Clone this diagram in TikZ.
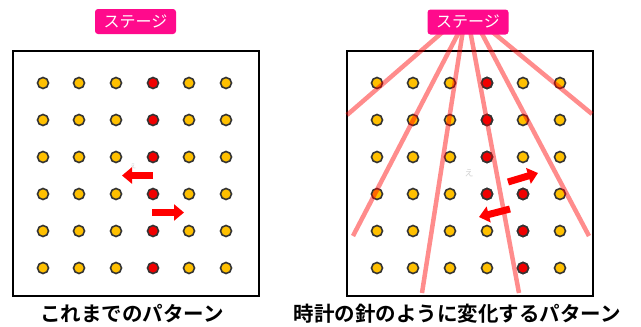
\documentclass[tikz,border=0pt]{standalone}
\usepackage{fontspec}
\newfontfamily\jp{Noto Sans CJK JP}[BoldFont={Noto Sans CJK JP Bold}]
\usetikzlibrary{arrows.meta}
\definecolor{stagepink}{HTML}{FF0A8C}
\definecolor{dotyellow}{HTML}{FFC000}
\definecolor{dotred}{HTML}{F00000}
\definecolor{dotline}{HTML}{333333}
\begin{document}
\begin{tikzpicture}[x=1pt,y=-1pt,
  dot/.style={circle,draw=dotline,line width=1.6pt,minimum size=11pt,inner sep=0pt},
  ydot/.style={dot,fill=dotyellow},
  rdot/.style={dot,fill=dotred},
  panel/.style={draw=black,line width=2pt},
  stagebox/.style={fill=stagepink,rounded corners=3pt,text=white,font=\jp\fontsize{16}{16}\selectfont,minimum width=81pt,minimum height=25pt,inner sep=0pt},
  ray/.style={draw=red,draw opacity=0.45,line width=4.5pt},
  bigarrow/.style={draw=red,line width=7pt,-{Triangle[length=10pt,width=16pt]}},
  title/.style={font=\jp\bfseries\fontsize{20.5}{20.5}\selectfont,anchor=base,inner sep=0pt},
  ghost/.style={text=gray!35,font=\jp\fontsize{9}{9}\selectfont,inner sep=0pt}]
\useasboundingbox (0,0) rectangle (641,327);
\fill[white] (0,0) rectangle (641,327);

% ---------- left panel ----------
\node[panel,minimum width=246pt,minimum height=245pt,inner sep=0pt] (boxL) at (136,173.5) {};
\foreach \y [count=\r] in {83,120,157,194,231,268}{
  \foreach \x [count=\c] in {43,79,116,153,189,226}{
    \ifnum\c=4
      \node[rdot] (L\r\c) at (\x,\y) {};
    \else
      \node[ydot] (L\r\c) at (\x,\y) {};
    \fi
  }
}
\node[stagebox] (stageL) at (135.5,21.5) {ステージ};
\node[ghost,font=\jp\fontsize{6}{6}\selectfont] (gL) at (133,166) {え};
\coordinate (aL1s) at (153,175.5);
\coordinate (aL1e) at (122,175.5);
\coordinate (aL2s) at (152,212.5);
\coordinate (aL2e) at (184,212.5);
\draw[bigarrow] (aL1s) -- (aL1e);
\draw[bigarrow] (aL2s) -- (aL2e);
\node[title] (titleL) at (132,321.5) {これまでのパターン};

% ---------- right panel ----------
\node[panel,minimum width=246pt,minimum height=245pt,inner sep=0pt] (boxR) at (470,173.5) {};
\foreach \y [count=\r] in {83,120,157,194,231,268}{
  \foreach \x [count=\c] in {377,413,450,487,523,560}{
    \node[ydot] (R\r\c) at (\x,\y) {};
  }
}
\node[rdot] at (R14) {};
\node[rdot] at (R24) {};
\node[rdot] at (R34) {};
\node[rdot] at (R44) {};
\node[rdot] at (R45) {};
\node[rdot] at (R55) {};
\node[rdot] at (R65) {};

\coordinate (s1) at (445,30);
\coordinate (s2) at (460,30);
\coordinate (s3) at (463,30);
\coordinate (s4) at (470,30);
\coordinate (s5) at (480,30);
\coordinate (s6) at (490,30);
\coordinate (e1) at (347,115);
\coordinate (e2) at (353,236);
\coordinate (e3) at (422,293);
\coordinate (e4) at (519,293);
\coordinate (e5) at (589,236);
\coordinate (e6) at (592,114);
\foreach \i in {1,...,6}{
  \draw[ray,line cap=butt] (s\i) -- (e\i);
}
\node[stagebox] (stageR) at (468,22) {ステージ};
\node[ghost] (gR) at (469,173) {え};
\coordinate (aR1s) at (508,182);
\coordinate (aR1e) at (538,173);
\coordinate (aR2s) at (510,209);
\coordinate (aR2e) at (479,217);
\draw[bigarrow] (aR1s) -- (aR1e);
\draw[bigarrow] (aR2s) -- (aR2e);
\node[title] (titleR) at (457,321.5) {時計の針のように変化するパターン};
\end{tikzpicture}
\end{document}
